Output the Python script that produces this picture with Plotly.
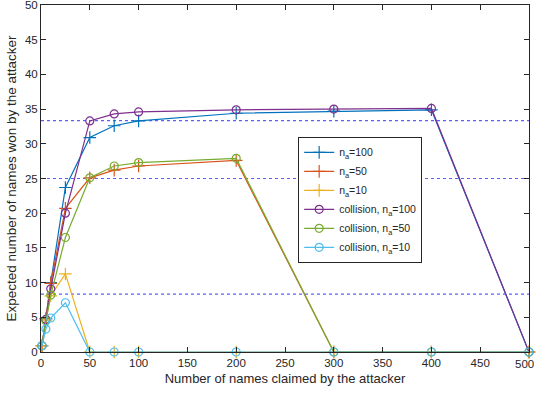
import plotly.graph_objects as go

x_claimed = [1, 5, 10, 25, 50, 75, 100, 200, 300, 400, 500]

na100 = [0.9, 4.8, 10.0, 23.7, 30.9, 32.6, 33.3, 34.4, 34.7, 34.9, 0]
na50 = [0.9, 4.8, 9.9, 20.7, 25.1, 26.2, 26.8, 27.6, 0, 0, 0]
na10 = [0.9, 4.6, 8.1, 11.25, 0, 0, 0, 0, 0, 0, 0]
col100 = [0.9, 4.7, 9.1, 20.0, 33.3, 34.3, 34.6, 34.9, 35.0, 35.1, 0]
col50 = [0.9, 4.5, 8.2, 16.5, 25.1, 26.8, 27.3, 27.9, 0, 0, 0]
col10 = [0.9, 3.3, 4.9, 7.1, 0, 0, 0, 0, 0, 0, 0]

ref_levels = [100 / 3, 25, 25 / 3]

x_tickvals = [0, 50, 100, 150, 200, 250, 300, 350, 400, 450, 500]
x_ticktext = ["0", "50", "100", "150", "200", "250", "300", "350", "400", "450", "500"]

names = ["n<sub>a</sub>=100", "n<sub>a</sub>=50", "n<sub>a</sub>=10",
         "collision, n<sub>a</sub>=100", "collision, n<sub>a</sub>=50", "collision, n<sub>a</sub>=10"]
colors = ["#0072BD", "#D95319", "#EDB120", "#7E2F8E", "#77AC30", "#4DBEEE"]
series = [na100, na50, na10, col100, col50, col10]
symbols = ["cross-thin-open"] * 3 + ["circle-open"] * 3

FONT = "Liberation Sans, Arial, sans-serif"

fig = go.Figure()

for lvl in ref_levels:
    fig.add_trace(go.Scatter(
        x=[0, 500], y=[lvl, lvl], mode="lines",
        line=dict(color="rgba(40,40,255,0.75)", width=1.2, dash="dot"),
        showlegend=False, hoverinfo="skip"))

for name, col, ys, sym in zip(names, colors, series, symbols):
    fig.add_trace(go.Scatter(
        x=x_claimed, y=ys, name=name, mode="lines+markers",
        line=dict(color=col, width=1.2),
        marker=dict(symbol=sym, size=9 if sym.startswith("cross") else 8,
                    color=col, line=dict(color=col, width=1.2)),
        cliponaxis=False))

axis_common = dict(
    showgrid=False, zeroline=False, showline=True, linecolor="#262626",
    linewidth=1, mirror="ticks", ticks="inside", ticklen=5, tickcolor="#262626",
    automargin=False, ticklabeloverflow="allow",
    tickfont=dict(family=FONT, size=11.5, color="#262626"),
)

# last x tick label is drawn as an annotation nudged left so it stays inside the page
fig.update_xaxes(range=[0, 500], tickmode="array", tickvals=x_tickvals,
                 ticktext=x_ticktext[:-1] + [""],
                 title=dict(text="Number of names claimed by the attacker",
                            font=dict(family=FONT, size=13, color="#262626"),
                            standoff=6),
                 **axis_common)
fig.add_annotation(x=x_tickvals[-1], y=0, xref="x", yref="paper", text=x_ticktext[-1],
                   showarrow=False, xanchor="right", yanchor="top", xshift=7, yshift=-4,
                   font=dict(family=FONT, size=11.5, color="#262626"))

fig.update_yaxes(range=[0, 50], tick0=0, dtick=5,
                 title=dict(text="Expected number of names won by the attacker",
                            font=dict(family=FONT, size=13.5, color="#262626"),
                            standoff=5),
                 **axis_common)

fig.update_layout(
    width=536, height=395,
    margin=dict(l=41, r=7, t=5, b=43),
    paper_bgcolor="white", plot_bgcolor="white",
    font=dict(family=FONT, color="#262626"),
    legend=dict(x=0.527, y=0.62, xanchor="left", yanchor="top",
                bgcolor="white", bordercolor="#262626", borderwidth=1,
                font=dict(size=10.5, color="#262626"),
                tracegroupgap=0, itemwidth=30),
)

fig.write_html("out.html", config={"displayModeBar": False},
               post_script="document.body.style.margin='0';document.body.style.overflow='hidden';")
